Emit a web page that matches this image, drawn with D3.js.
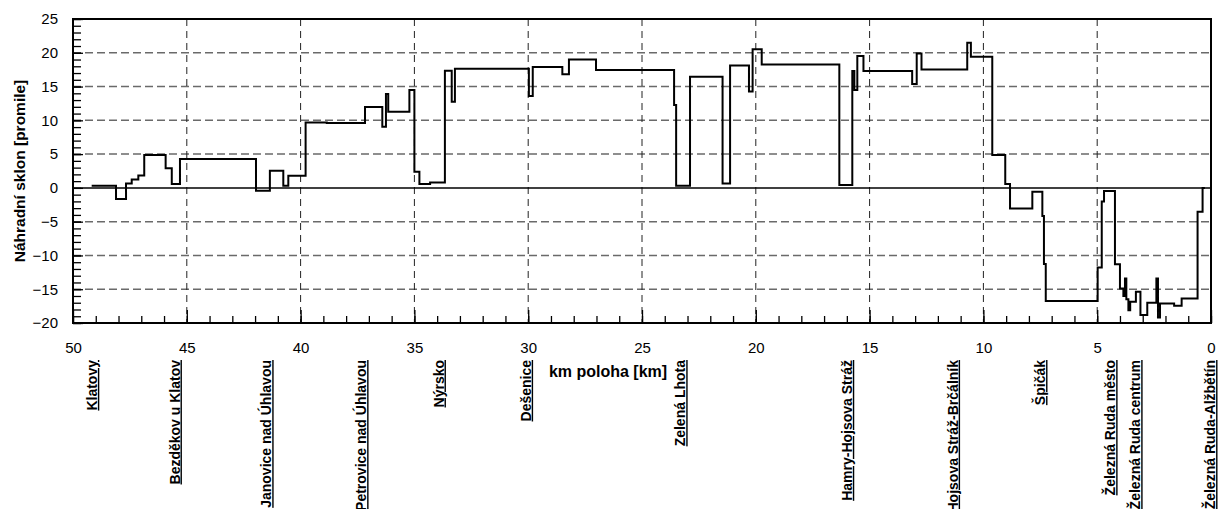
<!DOCTYPE html>
<html>
<head>
<meta charset="utf-8">
<script src="https://cdn.jsdelivr.net/npm/d3@7"></script>
<style>
  html, body { margin: 0; padding: 0; background: #fff; }
  svg { display: block; font-family: "Liberation Sans", Arial, sans-serif; }
</style>
</head>
<body>
<svg id="chart" width="1218" height="509"></svg>
<script>
// Track gradient profile (km position descending, grade in per mille).
// Each entry starts a constant-grade section that lasts until the next one.
const profileKm = [
  49.18, 48.11, 47.67, 47.42, 47.13, 46.87, 45.93, 45.66, 45.30, 41.96,
  41.35, 40.76, 40.54, 39.78, 38.85, 37.17, 36.41, 36.25, 36.15, 35.22,
  35.00, 34.78, 34.31, 33.66, 33.36, 33.22, 29.97, 29.80, 28.50, 28.21,
  27.02, 23.59, 23.50, 22.89, 21.46, 21.13, 20.30, 20.14, 19.74, 16.33,
  15.76, 15.67, 15.54, 15.27, 13.13, 12.93, 12.72, 10.71, 10.55, 9.61,
  9.04, 8.83, 7.85, 7.41, 7.34, 7.26, 4.98, 4.80, 4.70, 4.22,
  4.00, 3.85, 3.78, 3.72, 3.63, 3.55, 3.30, 3.10, 2.80, 2.40,
  2.33, 2.24, 1.62, 1.29, 0.59, 0.37, 0.27
];
const profileGrade = [
  0.3, -1.66, 0.66, 1.25, 1.85, 4.85, 2.9, 0.56, 4.26, -0.43,
  2.53, 0.31, 1.8, 9.69, 9.59, 11.96, 9.05, 13.9, 11.27, 14.48,
  2.39, 0.56, 0.81, 17.34, 12.75, 17.63, 13.59, 17.88, 16.84, 19.02,
  17.44, 12.26, 0.31, 16.45, 0.66, 18.13, 14.28, 20.54, 18.27, 0.41,
  17.29, 14.48, 19.51, 17.29, 15.36, 19.9, 17.54, 21.48, 19.41, 4.85,
  0.56, -3.04, -0.57, -4.17, -11.28, -16.76, -11.8, -2.0, -0.45, -11.3,
  -14.9, -16.0, -13.4, -16.5, -18.1, -16.85, -15.37, -18.83, -17.0, -13.4,
  -19.17, -17.1, -17.45, -16.36, -3.53, 0, 0
];

// Stations along the line
const stationNames = [
  "Klatovy", "Bezděkov u Klatov", "Janovice nad Úhlavou", "Petrovice nad Úhlavou",
  "Nýrsko", "Dešenice", "Zelená Lhota", "Hamry-Hojsova Stráž",
  "Hojsova Stráž-Brčálník", "Špičák", "Železná Ruda město",
  "Železná Ruda centrum", "Železná Ruda-Alžbětín"
];
const stationKm = [
  48.95, 45.32, 41.29, 37.12, 33.72, 29.89, 23.10, 15.78,
  11.13, 7.29, 4.21, 3.11, -0.18
];

// Axis ticks
const xMajorTicks = [50, 45, 40, 35, 30, 25, 20, 15, 10, 5, 0];
const yMajorTicks = [-20, -15, -10, -5, 0, 5, 10, 15, 20, 25];

const svg = d3.select("#chart");
const plotLeft = 73, plotRight = 1211, plotTop = 19, plotBottom = 323;

const x = d3.scaleLinear().domain([50, 0]).range([plotLeft, plotRight]);
const y = d3.scaleLinear().domain([-20, 25]).range([plotBottom, plotTop]);

// Gridlines
const grid = svg.append("g");
grid.selectAll("line.hgrid")
  .data(yMajorTicks.filter(v => v !== 0 && v !== 25 && v !== -20))
  .join("line")
  .attr("x1", plotLeft).attr("x2", plotRight)
  .attr("y1", d => y(d)).attr("y2", d => y(d))
  .attr("stroke", "#6a6a6a").attr("stroke-width", 1.5)
  .attr("stroke-dasharray", "8,4");
grid.selectAll("line.vgrid")
  .data(xMajorTicks.filter(v => v !== 50 && v !== 0))
  .join("line")
  .attr("x1", d => x(d)).attr("x2", d => x(d))
  .attr("y1", plotTop).attr("y2", plotBottom)
  .attr("stroke", "#222").attr("stroke-width", 1)
  .attr("stroke-dasharray", "7,5");
// Zero grade line
grid.append("line")
  .attr("x1", plotLeft).attr("x2", plotRight)
  .attr("y1", y(0)).attr("y2", y(0))
  .attr("stroke", "#000").attr("stroke-width", 1.5);

// Minor ticks (every 1 km / 1 per mille), pointing inward
svg.append("g")
  .attr("transform", `translate(0,${plotBottom})`)
  .call(d3.axisBottom(x).tickValues(d3.range(0, 51)).tickSizeInner(-7).tickSizeOuter(0).tickFormat(""))
  .call(g => g.select(".domain").remove())
  .call(g => g.selectAll("line").attr("stroke", "#000").attr("stroke-width", 1.3));
svg.append("g")
  .attr("transform", `translate(${plotLeft},0)`)
  .call(d3.axisLeft(y).tickValues(d3.range(-20, 26)).tickSizeInner(-8).tickSizeOuter(0).tickFormat(""))
  .call(g => g.select(".domain").remove())
  .call(g => g.selectAll("line").attr("stroke", "#000").attr("stroke-width", 1.3));

// Major axes with labels
svg.append("g")
  .attr("transform", `translate(0,${plotBottom})`)
  .call(d3.axisBottom(x).tickValues(xMajorTicks).tickSizeInner(-13).tickSizeOuter(0).tickPadding(19))
  .call(g => g.select(".domain").remove())
  .call(g => g.selectAll("line").attr("stroke", "#000").attr("stroke-width", 1.3))
  .call(g => g.selectAll("text").attr("font-size", 15).attr("fill", "#000")
    .attr("font-family", "Liberation Sans, Arial, sans-serif"));
svg.append("g")
  .attr("transform", `translate(${plotLeft},0)`)
  .call(d3.axisLeft(y).tickValues(yMajorTicks).tickSizeInner(-10).tickSizeOuter(0).tickPadding(15))
  .call(g => g.select(".domain").remove())
  .call(g => g.selectAll("line").attr("stroke", "#000").attr("stroke-width", 1.3))
  .call(g => g.selectAll("text").attr("font-size", 15).attr("fill", "#000")
    .attr("font-family", "Liberation Sans, Arial, sans-serif"));

// Plot frame
svg.append("rect")
  .attr("x", plotLeft).attr("y", plotTop)
  .attr("width", plotRight - plotLeft).attr("height", plotBottom - plotTop)
  .attr("fill", "none").attr("stroke", "#000").attr("stroke-width", 2);

// Gradient profile as a step line
const points = profileKm.map((k, i) => [k, profileGrade[i]]);
const line = d3.line()
  .x(d => x(d[0]))
  .y(d => y(d[1]))
  .curve(d3.curveStepAfter);
svg.append("path")
  .datum(points)
  .attr("d", line)
  .attr("fill", "none")
  .attr("stroke", "#000")
  .attr("stroke-width", 2)
  .attr("stroke-linejoin", "miter");

// Station names, vertical and underlined
svg.append("g")
  .selectAll("text")
  .data(stationNames)
  .join("text")
  .attr("transform", (d, i) => `translate(${x(stationKm[i])},360) rotate(-90)`)
  .attr("text-anchor", "end")
  .attr("font-size", 14)
  .attr("font-weight", "bold")
  .attr("text-decoration", "underline")
  .attr("fill", "#000")
  .text(d => d);

// Axis titles
svg.append("text")
  .attr("x", 608).attr("y", 377)
  .attr("text-anchor", "middle")
  .attr("font-size", 16).attr("font-weight", "bold")
  .text("km poloha [km]");
svg.append("text")
  .attr("transform", "translate(25,171) rotate(-90)")
  .attr("text-anchor", "middle")
  .attr("font-size", 15.5).attr("font-weight", "bold")
  .text("Náhradní sklon [promile]");
</script>
</body>
</html>
